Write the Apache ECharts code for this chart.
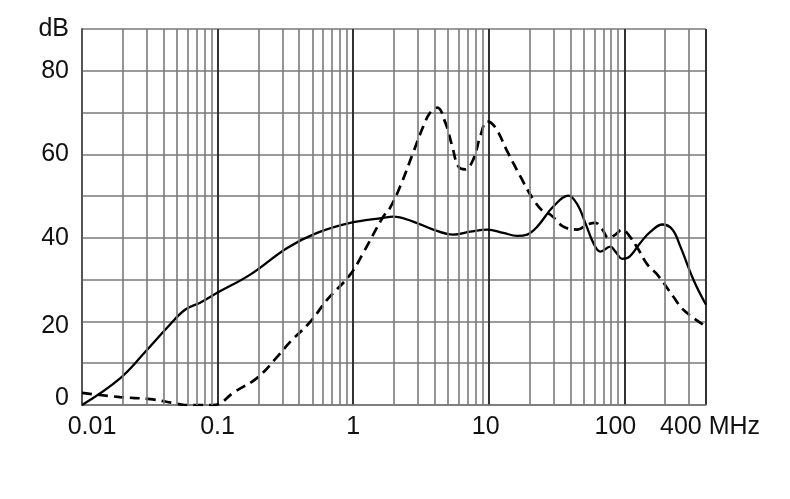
<!DOCTYPE html>
<html>
<head>
<meta charset="utf-8">
<script src="https://cdn.jsdelivr.net/npm/echarts@6/dist/echarts.min.js"></script>
<style>html,body{margin:0;padding:0;background:#fff}#c{width:790px;height:499px}</style>
</head>
<body>
<div id="c"></div>
<script>
// Frequencies in MHz, levels in dB
var solidFreq = [0.01, 0.0191, 0.0292, 0.0424, 0.0575, 0.0743, 0.1, 0.174, 0.326, 0.542, 0.95, 1.66, 1.97, 2.77, 3.89, 5.47, 7.3, 9.75, 12.8, 16.2, 19.2, 22.8, 29.9, 38.6, 45, 51.5, 59, 66.5, 78.9, 85.9, 96.6, 107, 131, 156, 191, 226, 259, 323, 400];
var solidDb   = [0, 6.4, 12.7, 18.5, 22.8, 24.5, 26.9, 31.2, 37.6, 41.2, 43.6, 44.8, 45.1, 43.9, 42, 40.8, 41.5, 42, 41.2, 40.5, 40.8, 42.7, 47.5, 50.1, 48, 43.6, 38.8, 36.7, 37.9, 36.7, 35, 35.3, 38.8, 41.5, 43.2, 42, 37.9, 30, 24];

var dashFreq = [0.01, 0.0191, 0.0318, 0.047, 0.0575, 0.0927, 0.1, 0.13, 0.196, 0.275, 0.343, 0.482, 0.643, 0.95, 1.19, 1.66, 1.87, 2.22, 2.77, 3.29, 3.7, 4.17, 4.78, 5.38, 5.96, 6.71, 7.69, 8.65, 9.75, 11.2, 13.7, 17.1, 21.3, 25.2, 28.4, 35.5, 45, 53.3, 61.1, 68.9, 76.2, 85.9, 96.6, 107, 127, 148, 175, 230, 272, 383];
var dashDb   = [2.9, 1.9, 1.4, 0.5, 0, 0, 0.1, 2.9, 6.5, 11.5, 15.1, 19.9, 25.2, 31.2, 36.5, 45, 47.2, 52.3, 60.4, 66.7, 70, 71.2, 67.6, 61.9, 57.1, 56.4, 58.8, 64.3, 67.9, 66.4, 60.7, 54.7, 49.2, 46.3, 45.6, 42.7, 42, 43.2, 43.6, 42, 40, 40.8, 42, 40.8, 37.2, 33.6, 31.2, 25.9, 22.8, 19.2];

// Minor vertical grid positions (MHz)
var minorGrid = [0.02, 0.03, 0.04, 0.05, 0.06, 0.07, 0.08, 0.09,
                 0.2, 0.3, 0.4, 0.5, 0.6, 0.7, 0.8, 0.9,
                 2, 3, 4, 5, 6, 7, 8, 9,
                 20, 30, 40, 50, 60, 70, 80, 90,
                 200, 300];
// Tick labels
var xLabels = {0.01: '0.01', 0.1: '0.1', 1: '1', 10: '10', 100: '100', 400: '400 MHz'};
var yLabels = {0: '0', 20: '20', 40: '40', 60: '60', 80: '80', 90: 'dB'};

function pairs(xs, ys) { return xs.map(function (x, i) { return [x, ys[i]]; }); }

var chart = echarts.init(document.getElementById('c'), null, {renderer: 'canvas'});
var FONT = 'Liberation Sans, Arial, sans-serif';
chart.setOption({
  animation: false,
  backgroundColor: '#fff',
  grid: {left: 82, right: 84, top: 29, bottom: 94, containLabel: false},
  xAxis: {
    type: 'log', logBase: 10, min: 0.01, max: 400,
    axisLine: {show: true, lineStyle: {color: '#777', width: 1.5}},
    axisTick: {show: false},
    splitLine: {show: true, lineStyle: {color: '#333', width: 2}},
    axisLabel: {
      show: true, margin: 10, showMaxLabel: true, showMinLabel: true,
      color: '#111', fontFamily: FONT, fontSize: 25,
      formatter: function (v) {
        var key = Math.round(v * 1000) / 1000;
        var t = xLabels[key];
        if (t === undefined) return '';
        if (key === 0.01) return '{l|' + t + '}';
        if (key === 100) return '{r|' + t + '}';
        if (key === 10) return '{r2|' + t + '}';
        if (key === 400) return '{m|' + t + '}';
        return t;
      },
      rich: {
        l: {fontFamily: FONT, fontSize: 25, color: '#111', padding: [0, 0, 0, 20]},
        r: {fontFamily: FONT, fontSize: 25, color: '#111', padding: [0, 18, 0, 0]},
        r2: {fontFamily: FONT, fontSize: 25, color: '#111', padding: [0, 6, 0, 0]},
        m: {fontFamily: FONT, fontSize: 25, color: '#111', padding: [0, 0, 0, 8]}
      }
    }
  },
  yAxis: {
    type: 'value', min: 0, max: 90, interval: 10,
    axisLine: {show: true, lineStyle: {color: '#555', width: 2}},
    axisTick: {show: false},
    splitLine: {show: true, lineStyle: {color: '#7a7a7a', width: 1.6}},
    axisLabel: {
      margin: 13, color: '#111', fontFamily: FONT, fontSize: 25,
      formatter: function (v) {
        var t = yLabels[v];
        if (t === undefined) return '';
        if (v === 0) return '{u|' + t + '}';
        if (v === 20) return '{d|' + t + '}';
        return t;
      },
      rich: {
        u: {fontFamily: FONT, fontSize: 25, color: '#111', padding: [0, 0, 14, 0]},
        d: {fontFamily: FONT, fontSize: 25, color: '#111', padding: [10, 0, 0, 0]}
      }
    }
  },
  series: [
    {
      type: 'line', data: [], silent: true,
      markLine: {
        silent: true, symbol: ['none', 'none'], label: {show: false},
        lineStyle: {color: '#7a7a7a', width: 1.6, type: 'solid'},
        data: minorGrid.map(function (f) { return {xAxis: f}; })
      }
    },
    {
      type: 'line', data: pairs(solidFreq, solidDb), smooth: 0.4,
      showSymbol: false, symbol: 'none',
      lineStyle: {color: '#000', width: 2.3}
    },
    {
      type: 'line', data: pairs(dashFreq, dashDb), smooth: 0.4,
      showSymbol: false, symbol: 'none',
      lineStyle: {color: '#000', width: 2.7, type: [10, 6]}
    }
  ]
});
</script>
</body>
</html>
